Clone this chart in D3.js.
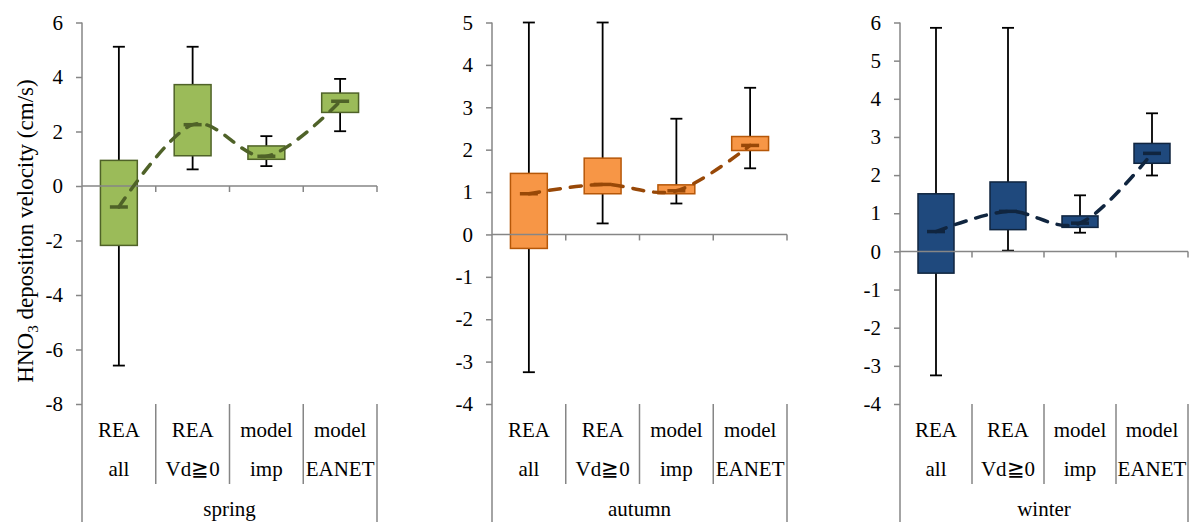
<!DOCTYPE html>
<html>
<head>
<meta charset="utf-8">
<script src="https://cdn.jsdelivr.net/npm/d3@7"></script>
<style>
  body { margin: 0; background: #fff; }
  svg text { font-family: "Liberation Serif", "Times New Roman", serif; fill: #000; }
</style>
</head>
<body>
<div id="chart"></div>
<script>
// categories and seasons
const seasons = ["spring", "autumn", "winter"];
const catLine1 = ["REA", "REA", "model", "model"];
const catLine2 = ["all", "Vd\u22670", "imp", "EANET"];

// box statistics (cm/s)
const springLow  = [-6.59, 0.61, 0.73, 2.01];
const springQ1   = [-2.18, 1.11, 0.98, 2.70];
const springMed  = [-0.77, 2.25, 1.09, 3.11];
const springQ3   = [0.94, 3.72, 1.47, 3.41];
const springHigh = [5.11, 5.11, 1.83, 3.93];

const autumnLow  = [-3.25, 0.26, 0.73, 1.56];
const autumnQ1   = [-0.33, 0.96, 0.96, 1.98];
const autumnMed  = [0.96, 1.18, 1.03, 2.10];
const autumnQ3   = [1.44, 1.80, 1.17, 2.31];
const autumnHigh = [5.0, 5.0, 2.73, 3.46];

const winterLow  = [-3.25, 0.02, 0.49, 1.99];
const winterQ1   = [-0.57, 0.57, 0.63, 2.31];
const winterMed  = [0.52, 1.05, 0.74, 2.57];
const winterQ3   = [1.51, 1.82, 0.93, 2.83];
const winterHigh = [5.86, 5.86, 1.47, 3.62];

// y axes
const springTicks = [-8, -6, -4, -2, 0, 2, 4, 6];
const autumnTicks = [-4, -3, -2, -1, 0, 1, 2, 3, 4, 5];
const winterTicks = [-4, -3, -2, -1, 0, 1, 2, 3, 4, 5, 6];

const stats = [
  [springLow, springQ1, springMed, springQ3, springHigh],
  [autumnLow, autumnQ1, autumnMed, autumnQ3, autumnHigh],
  [winterLow, winterQ1, winterMed, winterQ3, winterHigh]
];
const tickSets = [springTicks, autumnTicks, winterTicks];

// layout + colours per panel
var panels = [
  {left: 82,  right: 377,  fill: "#9BBB59", edge: "#4F6228", line: "#4F6228"},
  {left: 492, right: 787,  fill: "#F79646", edge: "#B65708", line: "#984807"},
  {left: 900, right: 1188, fill: "#1F497D", edge: "#10253F", line: "#10253F"}
];
var plotTop = 22.5, plotBottom = 404;
var axisColor = "#868686";

var svg = d3.select("#chart").append("svg")
    .attr("width", 1190)
    .attr("height", 522);

panels.forEach(function(p, i) {
  var lo = stats[i][0], q1 = stats[i][1], med = stats[i][2], q3 = stats[i][3], hi = stats[i][4];
  var ticks = tickSets[i];

  var x = d3.scaleBand().domain(d3.range(4)).range([p.left, p.right]);
  var y = d3.scaleLinear().domain(d3.extent(ticks)).range([plotBottom, plotTop]);
  var bw = x.bandwidth();
  var cx = function(j) { return x(j) + bw / 2; };

  var g = svg.append("g");

  // whiskers
  var wh = g.append("g").attr("stroke", "#000").attr("stroke-width", 1.8);
  d3.range(4).forEach(function(j) {
    wh.append("line").attr("x1", cx(j)).attr("x2", cx(j)).attr("y1", y(lo[j])).attr("y2", y(hi[j]));
    [lo[j], hi[j]].forEach(function(v) {
      wh.append("line").attr("x1", cx(j) - 6).attr("x2", cx(j) + 6).attr("y1", y(v)).attr("y2", y(v));
    });
  });

  // boxes
  g.selectAll("rect.box").data(d3.range(4)).enter().append("rect")
    .attr("class", "box")
    .attr("x", function(j) { return cx(j) - bw * 0.25; })
    .attr("width", bw * 0.5)
    .attr("y", function(j) { return y(q3[j]); })
    .attr("height", function(j) { return y(q1[j]) - y(q3[j]); })
    .attr("fill", p.fill)
    .attr("stroke", p.edge)
    .attr("stroke-width", 1.5);

  // y axis
  var yAxis = g.append("g")
    .attr("transform", "translate(" + p.left + ",0)")
    .call(d3.axisLeft(y).tickValues(ticks).tickSize(6).tickPadding(13).tickFormat(d3.format("d")));
  yAxis.attr("font-family", null).attr("font-size", null);
  yAxis.select(".domain").attr("stroke", axisColor).attr("stroke-width", 1.5)
    .attr("d", "M0," + plotTop + "V" + 522);
  yAxis.selectAll(".tick line").attr("stroke", axisColor).attr("stroke-width", 1.5);
  yAxis.selectAll(".tick text").attr("font-size", 21).text(function(d) { return d < 0 ? "-" + (-d) : d; });

  // zero line with category ticks
  g.append("line").attr("x1", p.left).attr("x2", p.right).attr("y1", y(0)).attr("y2", y(0))
    .attr("stroke", axisColor).attr("stroke-width", 1.5);
  d3.range(1, 5).forEach(function(j) {
    var xx = j < 4 ? x(j) : p.right;
    g.append("line").attr("x1", xx).attr("x2", xx).attr("y1", y(0)).attr("y2", y(0) + 6)
      .attr("stroke", axisColor).attr("stroke-width", 1.5);
  });

  // category separators under the plot
  d3.range(1, 4).forEach(function(j) {
    g.append("line").attr("x1", x(j)).attr("x2", x(j)).attr("y1", plotBottom).attr("y2", 484)
      .attr("stroke", axisColor).attr("stroke-width", 1.5);
  });
  g.append("line").attr("x1", p.right).attr("x2", p.right).attr("y1", plotBottom).attr("y2", 522)
    .attr("stroke", axisColor).attr("stroke-width", 1.5);

  // category labels
  d3.range(4).forEach(function(j) {
    g.append("text").attr("x", cx(j)).attr("y", 437).attr("text-anchor", "middle")
      .attr("font-size", 21).text(catLine1[j]);
    g.append("text").attr("x", cx(j)).attr("y", 476).attr("text-anchor", "middle")
      .attr("font-size", 21).text(catLine2[j]);
  });
  g.append("text").attr("x", (p.left + p.right) / 2).attr("y", 516).attr("text-anchor", "middle")
    .attr("font-size", 21).text(seasons[i]);

  // median line (smoothed, dashed)
  var line = d3.line()
    .x(function(d, j) { return cx(j); })
    .y(function(d) { return y(d); })
    .curve(d3.curveCardinal.tension(0));
  g.append("path")
    .attr("d", line(med))
    .attr("fill", "none")
    .attr("stroke", p.line)
    .attr("stroke-width", 3.5)
    .attr("stroke-linecap", "round")
    .attr("stroke-dasharray", "11,10");

  // median markers
  g.selectAll("line.med").data(d3.range(4)).enter().append("line")
    .attr("class", "med")
    .attr("x1", function(j) { return cx(j) - 9; })
    .attr("x2", function(j) { return cx(j) + 9; })
    .attr("y1", function(j) { return y(med[j]); })
    .attr("y2", function(j) { return y(med[j]); })
    .attr("stroke", p.line)
    .attr("stroke-width", 3.5);
});

// y axis title
var yt = svg.append("text")
  .attr("transform", "translate(33,231) rotate(-90)")
  .attr("text-anchor", "middle")
  .attr("font-size", 23);
yt.append("tspan").text("HNO");
yt.append("tspan").attr("font-size", 15).attr("dy", 5).text("3");
yt.append("tspan").attr("dy", -5).text(" deposition velocity (cm/s)");
</script>
</body>
</html>
